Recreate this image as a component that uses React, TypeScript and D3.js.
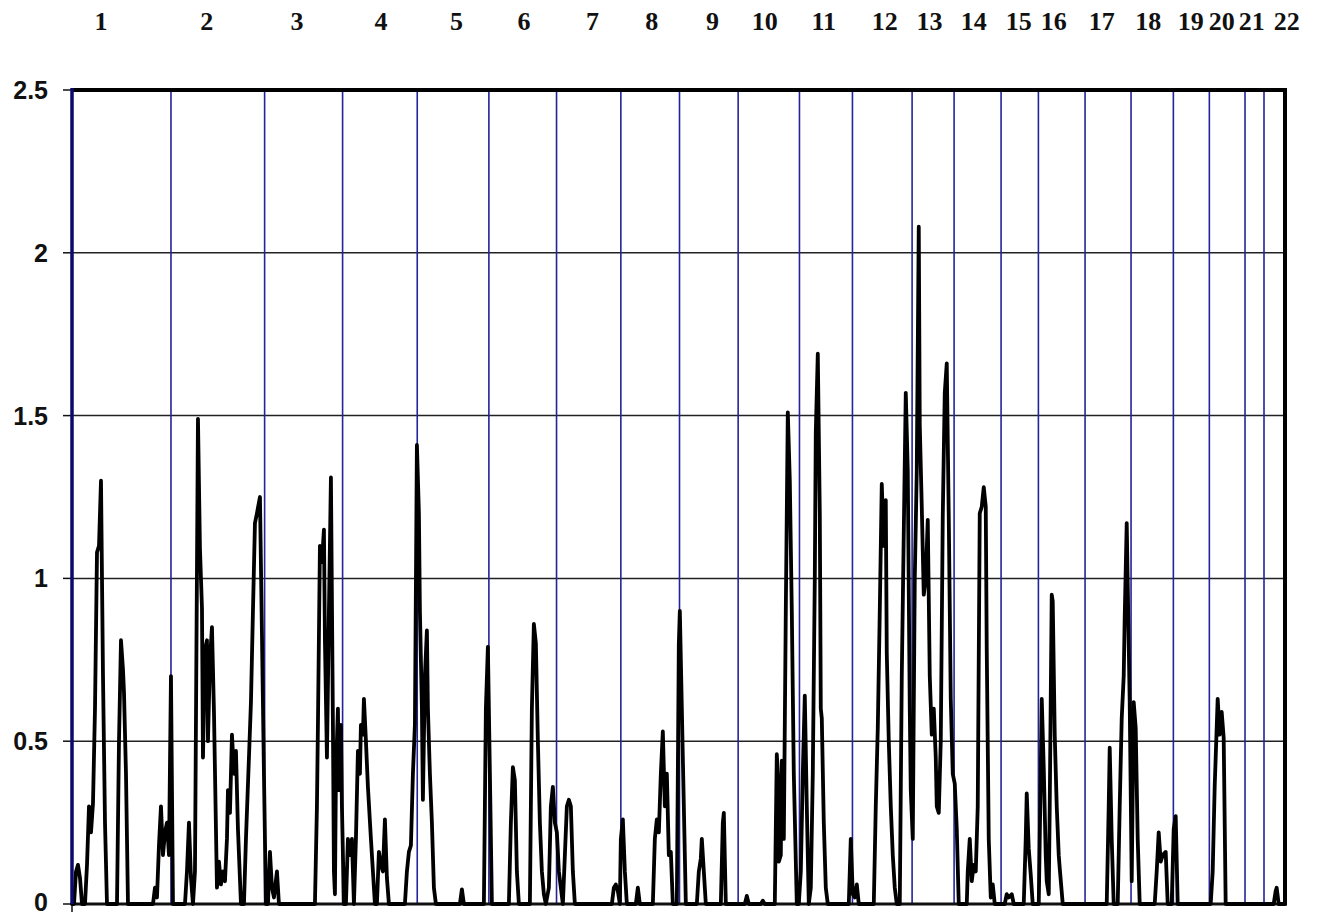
import React from "react";
import * as d3 from "d3";

// Chromosome names and (approximate) genetic lengths in cM
const chromosomes = ["1","2","3","4","5","6","7","8","9","10","11","12","13","14","15","16","17","18","19","20","21","22"];
const chromLengths = [297, 281, 234, 224, 215, 203, 193, 176, 176, 184, 159, 179, 126, 141, 112, 140, 138, 127, 108, 107, 57, 63];
// Genome position (cM) at which each chromosome label is written
const labelPositions = [87, 404, 675, 927, 1154, 1356, 1562, 1740, 1922, 2079, 2256, 2439, 2573, 2706, 2841, 2946, 3090, 3230, 3357, 3450, 3540, 3645];

const yTicks = [0, 0.5, 1, 1.5, 2, 2.5];
const yTickLabels = ["0", "0.5", "1", "1.5", "2", "2.5"];

// Genome-wide scan: [cumulative position cM, score]
const scanProfile: [number, number][] = [
  [0,0],[6,0],[12,0.10],[18,0.12],[24,0.08],[30,0],[39,0],[45,0.12],[51,0.30],[57,0.22],[63,0.31],[69,0.60],[75,1.08],[81,1.10],[87,1.30],[93,0.70],[99,0.25],[105,0],
  [135,0],[141,0.50],[147,0.81],[153,0.72],[156,0.65],[162,0.40],[168,0],
  [243,0],[249,0.05],[255,0.02],[261,0.18],[267,0.30],[273,0.15],[279,0.22],[285,0.25],[291,0.15],[297,0.70],[303,0],
  [339,0],[345,0.10],[351,0.25],[357,0.08],[363,0],[369,0.10],[378,1.49],[384,1.09],[390,0.91],[393,0.45],[399,0.78],[405,0.81],[408,0.50],[414,0.75],[420,0.85],[426,0.59],[435,0.05],[441,0.13],[447,0.06],[453,0.10],[459,0.07],[465,0.20],[468,0.35],[474,0.28],[480,0.52],[486,0.40],[492,0.47],[498,0.23],[507,0],
  [516,0],[522,0.20],[531,0.45],[537,0.62],[543,0.90],[549,1.17],[555,1.20],[564,1.25],[570,0.83],[576,0.40],[582,0],[588,0],[594,0.16],[600,0.05],[606,0.02],[615,0.10],[621,0],
  [729,0],[735,0.30],[738,0.55],[744,1.10],[750,1.05],[756,1.15],[759,0.81],[765,0.45],[771,0.90],[777,1.31],[783,0.55],[786,0.10],[789,0.03],[792,0.40],[798,0.60],[801,0.35],[807,0.55],[810,0.30],[816,0],
  [822,0],[828,0.20],[834,0.15],[840,0.20],[846,0],[852,0.20],[858,0.47],[864,0.40],[867,0.55],[873,0.52],[876,0.63],[882,0.50],[888,0.36],[897,0.20],[909,0],
  [915,0],[921,0.16],[927,0.12],[933,0.10],[939,0.26],[945,0.08],[951,0],
  [999,0],[1005,0.10],[1011,0.16],[1017,0.18],[1023,0.40],[1029,0.55],[1035,1.41],[1041,1.20],[1044,0.90],[1050,0.60],[1053,0.32],[1059,0.70],[1065,0.84],[1068,0.60],[1074,0.40],[1080,0.25],[1086,0.05],[1092,0],
  [1164,0],[1170,0.045],[1176,0],[1236,0],[1242,0.60],[1248,0.79],[1254,0.40],[1260,0],
  [1311,0],[1317,0.25],[1323,0.42],[1329,0.38],[1335,0.10],[1341,0],
  [1374,0],[1380,0.60],[1386,0.86],[1392,0.80],[1398,0.50],[1404,0.25],[1410,0.10],[1416,0.03],[1422,0],
  [1431,0.05],[1437,0.30],[1443,0.36],[1449,0.25],[1455,0.22],[1461,0.10],[1467,0.05],[1473,0],[1479,0.15],[1485,0.30],[1491,0.32],[1497,0.30],[1503,0.10],[1509,0],
  [1620,0],[1626,0.05],[1632,0.06],[1638,0.04],[1644,0],[1647,0.20],[1653,0.26],[1659,0.10],[1665,0],
  [1692,0],[1698,0.05],[1704,0],
  [1743,0],[1749,0.20],[1755,0.26],[1761,0.22],[1767,0.40],[1773,0.53],[1779,0.30],[1785,0.40],[1791,0.15],[1797,0.16],[1803,0],
  [1815,0],[1821,0.80],[1824,0.90],[1830,0.60],[1836,0.30],[1842,0],
  [1875,0],[1881,0.10],[1887,0.14],[1890,0.20],[1896,0.10],[1902,0],
  [1947,0],[1953,0.25],[1956,0.28],[1962,0],
  [2019,0],[2025,0.025],[2031,0],[2067,0],[2073,0.01],[2079,0],
  [2109,0],[2115,0.46],[2118,0.40],[2121,0.13],[2127,0.15],[2130,0.44],[2136,0.20],[2142,0.90],[2148,1.51],[2154,1.30],[2160,0.90],[2166,0.40],[2175,0],
  [2181,0],[2187,0.10],[2193,0.40],[2199,0.64],[2205,0.30],[2211,0],[2217,0.05],[2223,0.40],[2229,1.00],[2232,1.45],[2238,1.69],[2244,1.20],[2247,0.60],[2250,0.57],[2256,0.25],[2262,0.05],[2268,0],
  [2331,0],[2337,0.20],[2343,0.03],[2349,0.02],[2355,0.06],[2361,0],
  [2406,0],[2412,0.30],[2418,0.54],[2424,0.90],[2430,1.29],[2436,1.10],[2442,1.24],[2445,0.77],[2451,0.50],[2457,0.30],[2463,0.15],[2469,0.05],[2475,0],
  [2484,0],[2490,0.70],[2496,1.14],[2502,1.57],[2508,1.33],[2514,0.60],[2517,0.35],[2523,0.20],[2529,1.00],[2535,1.33],[2541,2.08],[2544,1.47],[2550,1.22],[2556,0.95],[2562,1.00],[2568,1.18],[2574,0.70],[2580,0.52],[2586,0.60],[2592,0.45],[2595,0.30],[2601,0.28],[2607,0.50],[2613,1.19],[2619,1.57],[2625,1.66],[2631,1.19],[2637,0.63],[2643,0.40],[2649,0.37],[2655,0.23],[2661,0],
  [2685,0],[2688,0.10],[2694,0.20],[2700,0.07],[2706,0.12],[2712,0.10],[2718,0.30],[2724,1.20],[2730,1.22],[2736,1.28],[2742,1.22],[2745,0.78],[2751,0.20],[2757,0.02],[2763,0.06],[2769,0],
  [2799,0],[2805,0.03],[2811,0.02],[2820,0.03],[2826,0],
  [2856,0],[2862,0.20],[2865,0.34],[2871,0.17],[2877,0.09],[2883,0],
  [2901,0],[2907,0.40],[2910,0.63],[2916,0.42],[2922,0.15],[2925,0.07],[2931,0.03],[2934,0.30],[2940,0.95],[2943,0.93],[2949,0.52],[2955,0.30],[2961,0.15],[2964,0.11],[2973,0],
  [3105,0],[3111,0.30],[3114,0.48],[3120,0.20],[3126,0],
  [3138,0],[3144,0.30],[3150,0.57],[3156,0.70],[3159,0.88],[3165,1.17],[3171,0.80],[3174,0.62],[3180,0.07],[3186,0.62],[3192,0.54],[3198,0.20],[3204,0],
  [3249,0],[3255,0.10],[3261,0.22],[3267,0.13],[3273,0.15],[3282,0.16],[3288,0],
  [3300,0],[3306,0.23],[3312,0.27],[3318,0],
  [3417,0],[3423,0.10],[3429,0.36],[3438,0.63],[3444,0.52],[3450,0.59],[3456,0.51],[3462,0],
  [3606,0],[3612,0.04],[3615,0.05],[3621,0],[3640,0],
];

const W = 1324;
const H = 913;
const plot = { left: 72, right: 1285, top: 90, bottom: 904 };

export default function App() {
  const total = d3.sum(chromLengths);
  const x = d3.scaleLinear().domain([0, total]).range([plot.left, plot.right]);
  const y = d3.scaleLinear().domain([0, 2.5]).range([plot.bottom, plot.top]);

  const bounds: number[] = [0];
  chromLengths.forEach((l) => bounds.push(bounds[bounds.length - 1] + l));

  const line = d3
    .line<[number, number]>()
    .x((d) => x(d[0]))
    .y((d) => y(d[1]));

  const blue = "#23239a";

  return (
    <svg
      width={W}
      height={H}
      style={{ position: "absolute", left: 0, top: 0, display: "block", background: "#fff" }}
    >
      <rect x={0} y={0} width={W} height={H} fill="#fff" />
      {/* chromosome labels */}
      {chromosomes.map((c, i) => (
        <text
          key={"lab" + c}
          x={x(labelPositions[i])}
          y={30}
          textAnchor="middle"
          fontFamily="'Liberation Serif', 'Times New Roman', serif"
          fontWeight="bold"
          fontSize={26}
          fill="#111"
        >
          {c}
        </text>
      ))}
      {/* horizontal gridlines */}
      {yTicks.filter((t) => t > 0 && t < 2.5).map((t) => (
        <line
          key={"g" + t}
          x1={plot.left}
          x2={plot.right}
          y1={y(t)}
          y2={y(t)}
          stroke="#222"
          strokeWidth={1.5}
        />
      ))}
      {/* chromosome boundaries */}
      {bounds.slice(1, -1).map((b, i) => (
        <line
          key={"b" + i}
          x1={x(b)}
          x2={x(b)}
          y1={plot.top}
          y2={plot.bottom}
          stroke={blue}
          strokeWidth={1.6}
        />
      ))}
      {/* y ticks and labels */}
      {yTicks.map((t, i) => (
        <g key={"t" + t}>
          <line x1={plot.left - 9} x2={plot.left} y1={y(t)} y2={y(t)} stroke="#111" strokeWidth={1.5} />
          <text
            x={48}
            y={Math.min(y(t) + 9, 911)}
            textAnchor="end"
            fontFamily="'Liberation Sans', Arial, sans-serif"
            fontWeight={600}
            fontSize={25}
            fill="#111"
          >
            {yTickLabels[i]}
          </text>
        </g>
      ))}
      <line x1={plot.left} x2={plot.left} y1={plot.bottom} y2={plot.bottom + 8} stroke="#111" strokeWidth={1.5} />
      {/* bottom axis */}
      <line x1={plot.left} x2={plot.right} y1={plot.bottom} y2={plot.bottom} stroke="#111" strokeWidth={3} />
      {/* scan profile */}
      <path
        d={line(scanProfile) || ""}
        fill="none"
        stroke="#000"
        strokeWidth={3.8}
        strokeLinejoin="round"
        strokeLinecap="round"
      />
      {/* frame */}
      <line x1={plot.left} x2={plot.right + 2} y1={plot.top} y2={plot.top} stroke="#000" strokeWidth={4} />
      <line x1={plot.right} x2={plot.right} y1={plot.top} y2={plot.bottom + 1.5} stroke="#000" strokeWidth={4} />
      <line x1={plot.left} x2={plot.left} y1={plot.top - 2} y2={plot.bottom} stroke="#0a0a6e" strokeWidth={3.5} />
    </svg>
  );
}
